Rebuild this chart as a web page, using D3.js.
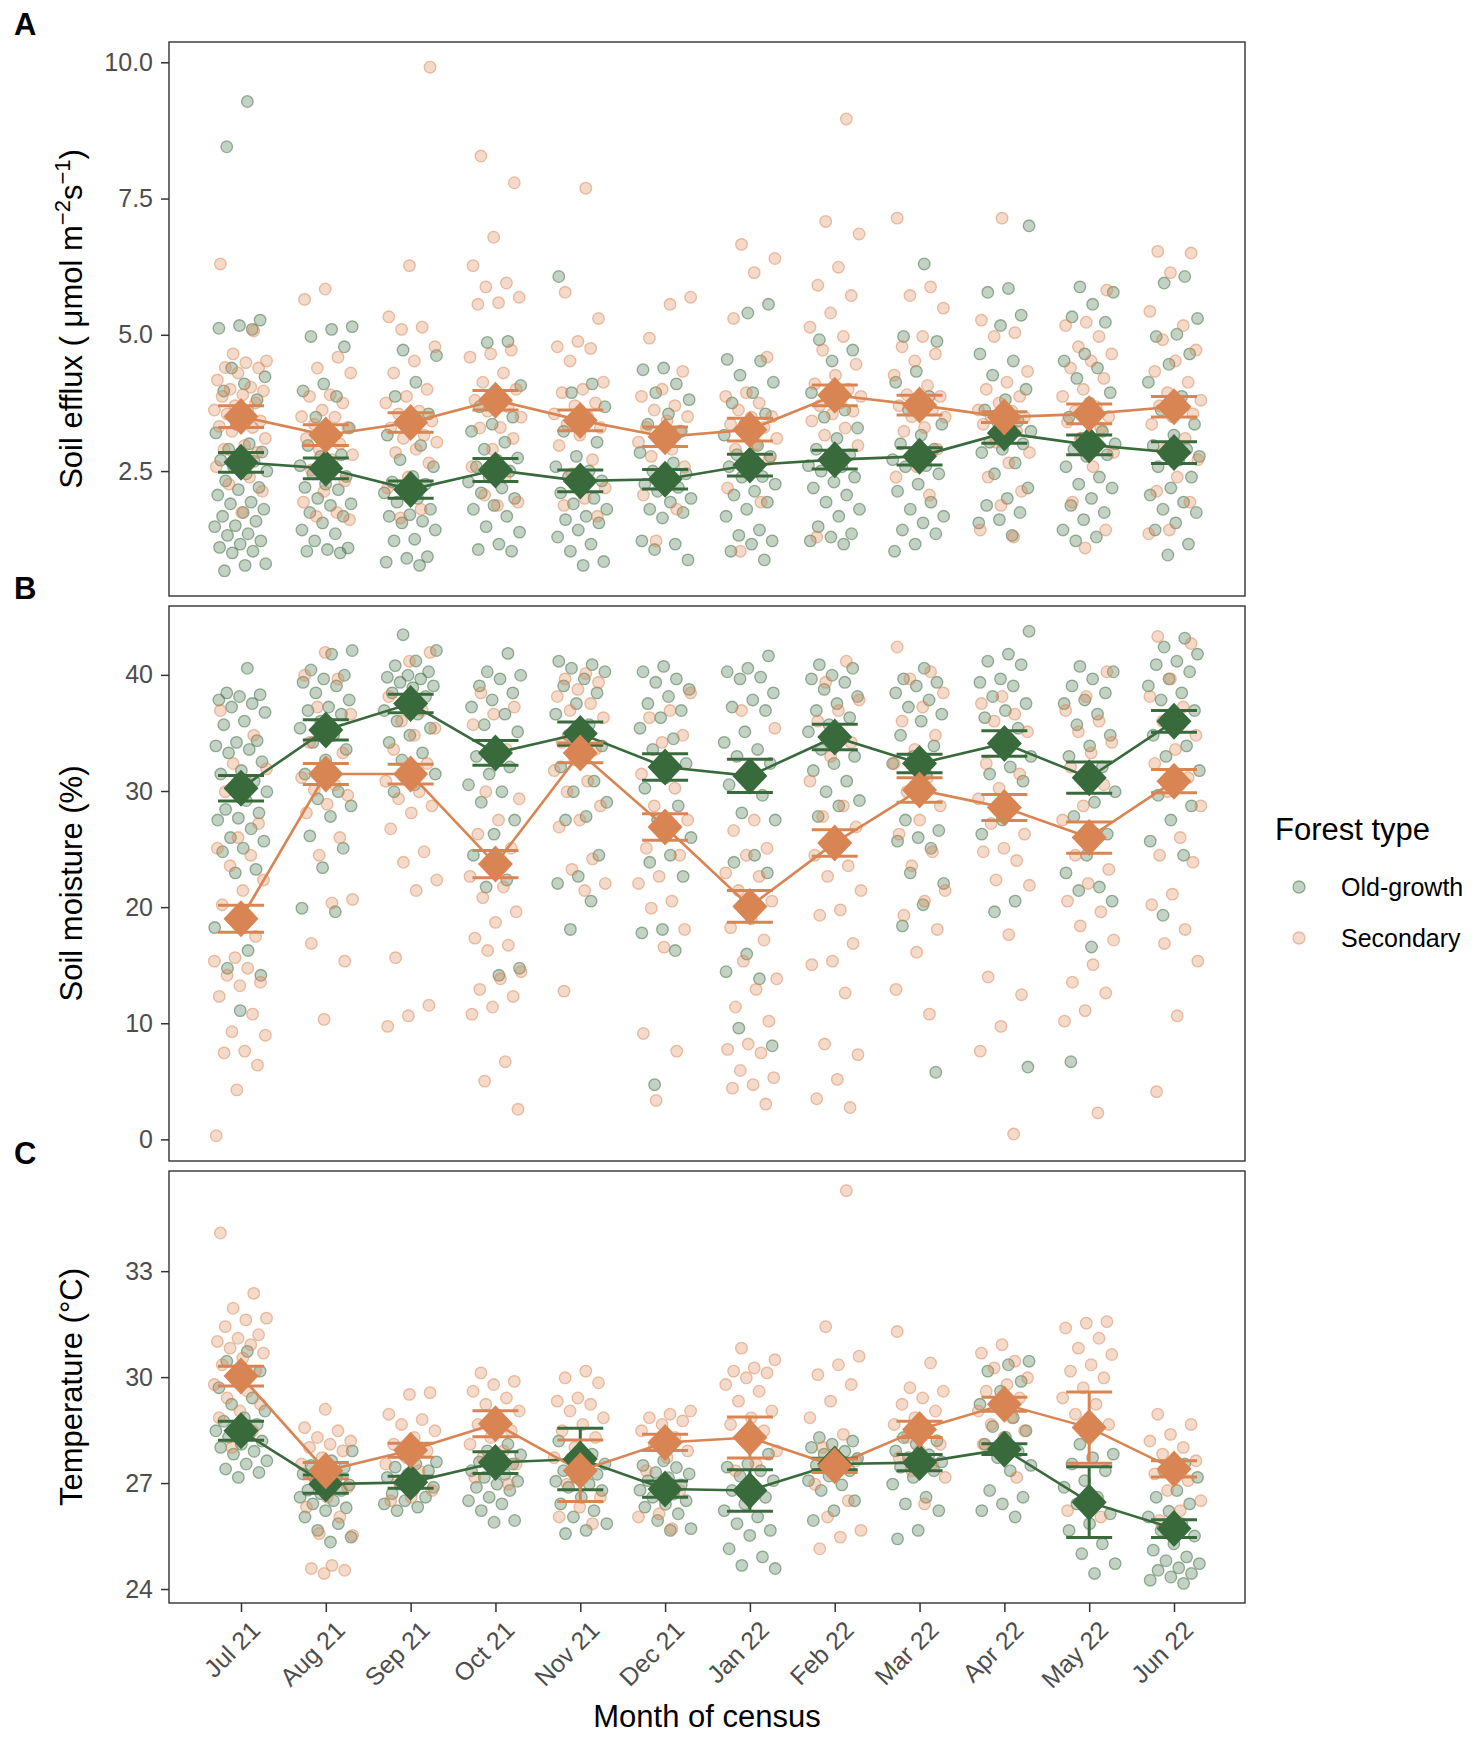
<!doctype html>
<html lang="en">
<head>
<meta charset="utf-8">
<title>Soil efflux, moisture and temperature by month</title>
<script src="https://cdn.jsdelivr.net/npm/d3@7"></script>
<style>
  body { margin: 0; background: #fff; }
  svg { font-family: "Liberation Sans", Arial, sans-serif; }
</style>
</head>
<body>
<div id="chart"></div>
<script>

// ---- data ----
const months = ['Jul 21','Aug 21','Sep 21','Oct 21','Nov 21','Dec 21','Jan 22','Feb 22','Mar 22','Apr 22','May 22','Jun 22'];
const forestTypes = ['Old-growth', 'Secondary'];

// A: soil efflux, one array of plot values per month
const effluxOld = [
  [9.28,8.45,5.27,5.17,5.12,5.1,4.39,4.23,4.1,3.97,3.81,3.36,3.2,3.0,2.9,2.85,2.75,2.7,2.68,2.58,2.5,2.45,2.32,2.2,2.16,2.06,1.93,1.9,1.8,1.74,1.67,1.58,1.5,1.48,1.35,1.32,1.22,1.16,1.1,1.03,1.0,0.8,0.77,0.67],
  [5.15,5.1,4.97,4.78,4.1,3.97,3.87,3.49,3.29,3.1,2.97,2.8,2.77,2.6,2.58,2.45,2.4,2.26,2.2,2.16,2.0,1.9,1.87,1.74,1.67,1.55,1.42,1.35,1.22,1.09,1.06,1.03,1.0],
  [4.72,4.62,4.13,3.87,3.55,3.36,3.16,2.97,2.71,2.58,2.4,2.3,2.26,2.13,2.1,2.0,1.93,1.8,1.7,1.67,1.58,1.55,1.42,1.25,1.22,0.93,0.9,0.83,0.77],
  [4.88,4.86,4.07,3.87,3.68,3.49,3.36,3.23,3.03,2.9,2.74,2.7,2.58,2.5,2.39,2.3,2.19,2.1,2.0,1.87,1.8,1.67,1.48,1.38,1.16,1.06,1.03],
  [6.07,4.1,3.94,3.68,3.36,3.23,3.03,2.77,2.58,2.5,2.4,2.32,2.19,2.1,2.0,1.9,1.8,1.67,1.61,1.55,1.42,1.29,1.16,1.03,0.84,0.77],
  [4.39,4.36,4.1,3.94,3.81,3.55,3.36,3.23,3.03,2.84,2.65,2.5,2.45,2.3,2.26,2.2,2.13,2.0,1.93,1.8,1.74,1.64,1.22,1.16,1.06,0.87],
  [5.56,5.4,4.55,4.52,4.26,4.13,3.94,3.75,3.55,3.36,3.16,2.97,2.8,2.77,2.6,2.58,2.4,2.39,2.26,2.13,2.06,1.93,1.8,1.67,1.42,1.32,1.22,1.16,1.03,0.87],
  [4.91,4.72,4.52,3.94,3.62,3.49,3.29,3.1,2.9,2.8,2.77,2.6,2.58,2.5,2.39,2.3,2.19,2.06,1.93,1.8,1.67,1.48,1.35,1.29,1.22,1.16],
  [6.3,4.97,4.88,4.33,4.13,3.87,3.62,3.36,3.16,3.0,2.9,2.8,2.71,2.6,2.58,2.45,2.26,2.13,1.93,1.8,1.67,1.55,1.42,1.35,1.16,1.03],
  [7.0,5.85,5.78,5.36,5.17,4.65,4.52,4.26,4.0,3.81,3.62,3.42,3.4,3.23,3.2,3.03,3.0,2.9,2.84,2.65,2.45,2.19,2.0,1.87,1.74,1.61,1.55,1.32],
  [5.88,5.78,5.56,5.33,5.23,4.65,4.52,4.39,4.2,3.94,3.75,3.49,3.23,3.1,3.0,2.97,2.9,2.8,2.77,2.58,2.39,2.26,2.19,2.0,1.87,1.74,1.61,1.42,1.29,1.22],
  [6.07,5.95,5.3,5.01,4.97,4.65,4.46,4.13,3.87,3.62,3.36,3.16,2.97,2.9,2.8,2.77,2.7,2.58,2.39,2.19,2.06,1.93,1.8,1.74,1.55,1.42,1.16,0.96]
];
const effluxSec = [
  [6.3,5.07,4.65,4.52,4.49,4.4,4.39,4.3,4.17,4.04,4.0,3.97,3.9,3.87,3.75,3.7,3.62,3.6,3.55,3.42,3.4,3.32,3.3,3.23,3.1,2.97,2.9,2.84,2.7,2.58,2.39,2.26,2.13,1.74],
  [5.84,5.65,4.59,4.39,4.3,3.9,3.87,3.75,3.62,3.5,3.49,3.36,3.3,3.23,3.1,3.0,2.9,2.8,2.71,2.52,2.32,2.13,1.93,1.74,1.67,1.61],
  [9.91,6.27,5.33,5.14,5.1,4.78,4.52,4.3,4.0,3.87,3.75,3.6,3.55,3.42,3.3,3.29,3.16,3.1,3.03,2.9,2.84,2.65,2.39,2.19,1.8,1.64],
  [8.28,7.79,6.79,6.27,5.95,5.88,5.69,5.59,5.56,4.72,4.65,4.59,4.3,4.13,4.0,3.87,3.8,3.68,3.6,3.49,3.3,3.29,3.1,2.9,2.58,2.39,2.06,1.93,1.87],
  [7.69,5.78,5.3,4.88,4.78,4.75,4.52,4.13,4.0,3.94,3.75,3.7,3.55,3.5,3.36,3.3,3.16,2.97,2.71,2.45,2.19,2.0,1.87,1.67],
  [5.69,5.56,4.94,4.33,4.0,3.87,3.7,3.62,3.5,3.42,3.3,3.23,3.1,3.03,2.9,2.77,2.58,2.32,2.06,1.8,1.22],
  [6.66,6.4,6.14,5.3,4.59,3.94,3.87,3.75,3.62,3.5,3.49,3.36,3.3,3.23,3.1,3.0,2.9,2.71,2.45,2.19,1.93,1.03],
  [8.96,7.08,6.85,6.24,5.91,5.72,5.4,5.14,4.97,4.72,4.46,4.26,4.1,4.0,3.9,3.87,3.75,3.7,3.6,3.55,3.42,3.29,3.16,2.97,2.71,1.29],
  [7.14,5.88,5.72,5.49,4.97,4.78,4.65,4.52,4.26,4.07,3.9,3.87,3.75,3.7,3.62,3.5,3.49,3.3,3.23,2.9,2.58,2.39,2.06],
  [7.14,5.27,5.04,4.97,4.33,4.13,4.0,3.87,3.75,3.62,3.6,3.5,3.49,3.4,3.36,3.23,3.03,2.84,2.65,2.39,2.13,1.87,1.42,1.29],
  [5.82,5.23,5.17,4.97,4.78,4.65,4.52,4.39,4.2,4.0,3.87,3.68,3.6,3.5,3.49,3.4,3.29,3.1,2.84,2.58,1.93,1.42,1.09],
  [6.53,6.5,6.14,5.43,5.17,4.91,4.72,4.52,4.33,4.13,3.94,3.8,3.75,3.7,3.55,3.5,3.36,3.1,2.9,2.71,2.39,2.13,1.93,1.42,1.35]
];
const effluxOldMean = [2.66,2.55,2.16,2.52,2.32,2.35,2.61,2.71,2.77,3.20,2.98,2.84];
const effluxOldSE   = [0.18,0.19,0.16,0.21,0.20,0.18,0.20,0.17,0.16,0.19,0.18,0.20];
const effluxSecMean = [3.50,3.16,3.39,3.80,3.43,3.13,3.26,3.89,3.71,3.49,3.55,3.68];
const effluxSecSE   = [0.20,0.19,0.18,0.18,0.19,0.18,0.21,0.19,0.18,0.10,0.18,0.19];

// B: soil moisture (%)
const moistOld = [
  [40.57,38.45,38.3,38.14,37.84,37.53,37.23,36.77,36.02,35.71,34.34,34.19,33.89,33.58,33.28,32.52,31.76,31.46,30.85,30.24,29.94,29.18,28.42,28.12,27.66,27.5,26.75,25.99,25.68,25.07,24.77,23.25,22.95,18.24,16.26,14.74,14.13,11.09],
  [42.1,41.79,40.42,39.97,39.66,39.36,39.05,38.45,37.84,37.23,36.93,36.62,36.02,35.41,34.8,34.19,33.58,32.67,31.46,29.94,29.33,28.72,27.81,26.14,25.07,23.4,19.91,19.6],
  [43.46,42.1,41.2,40.8,40.27,39.97,39.8,39.66,39.36,39.05,38.9,38.45,38.14,37.53,36.93,36.62,36.02,35.41,34.8,34.19,33.28,32.67,31.46,30.54,29.94],
  [41.85,40.27,39.97,39.66,39.05,38.45,37.84,37.23,36.62,35.71,35.1,33.58,32.98,32.07,31.46,30.54,29.94,29.03,27.5,26.29,24.47,22.34,21.73,14.74,14.13],
  [41.18,40.88,40.57,40.27,39.66,39.05,38.45,37.53,36.62,35.71,34.8,33.89,32.98,32.07,30.85,29.94,29.03,27.81,27.5,24.47,22.65,22.04,20.52,18.08],
  [40.73,40.27,39.66,39.36,38.75,38.14,37.53,36.93,36.32,35.41,34.5,33.58,32.37,31.15,30.24,28.72,27.5,25.99,24.47,23.86,22.65,18.08,17.78,16.26,4.71],
  [41.64,40.57,40.27,39.81,39.66,38.45,37.84,37.23,36.93,35.1,34.19,33.58,32.98,32.37,31.46,30.54,29.63,28.12,27.5,24.47,23.86,22.95,15.96,14.44,13.83,9.58,8.06],
  [40.88,40.57,39.97,39.66,39.36,38.75,38.14,37.53,36.93,36.32,35.71,35.1,34.5,33.58,32.98,32.37,31.76,30.85,29.94,29.18,28.72,27.81],
  [40.57,39.66,39.36,39.05,38.45,37.84,37.23,36.62,36.02,34.8,33.89,32.98,32.37,31.46,27.5,26.6,25.99,25.68,25.07,22.95,22.04,20.21,18.39,5.78],
  [43.76,41.79,41.18,40.88,39.66,39.36,39.05,38.14,37.53,36.93,36.32,35.41,34.19,32.98,32.07,31.46,30.85,27.5,26.29,20.52,19.6,6.23],
  [40.73,40.27,39.66,39.05,38.45,37.84,37.53,36.62,35.71,34.8,33.89,32.98,32.07,31.15,29.94,29.03,27.81,26.29,24.47,22.95,21.73,21.43,20.52,16.57,6.69],
  [43.16,42.4,41.79,41.18,40.88,40.27,39.66,39.05,38.45,37.84,36.93,35.71,34.8,33.89,32.98,31.76,30.85,29.63,28.72,27.5,25.68,24.47,19.3]
];
const moistSec = [
  [36.93,34.8,32.37,31.91,30.85,29.94,27.2,25.99,25.07,24.47,23.56,22.34,21.43,20.21,17.48,15.65,15.35,14.74,14.13,13.53,13.23,12.31,10.79,9.27,8.97,7.6,7.45,6.39,4.26,0.31],
  [41.94,39.97,39.66,37.23,36.62,35.41,34.19,33.28,32.07,31.15,30.54,30.09,29.63,28.87,28.12,25.99,24.47,20.67,20.36,16.87,15.35,10.33],
  [41.94,41.18,38.14,36.93,36.02,35.41,34.8,33.58,32.37,31.46,30.85,29.94,29.33,28.72,28.12,26.75,24.77,23.86,22.34,21.43,15.65,11.55,10.64,9.73],
  [38.45,37.23,36.62,35.71,33.58,29.94,29.33,27.5,26.29,25.07,23.86,22.65,21.73,20.82,19.6,18.69,17.33,16.72,16.26,14.44,13.83,12.92,12.31,11.4,10.79,6.69,5.02,2.59],
  [40.12,39.66,39.36,38.75,38.14,37.53,36.93,36.32,35.41,34.19,33.58,32.67,31.76,30.85,29.94,28.72,27.5,26.9,24.16,23.25,22.04,21.43,12.77],
  [38.45,36.93,36.32,34.8,34.19,31.46,30.24,28.72,27.5,26.29,25.07,24.47,22.65,22.04,20.52,19.91,18.08,16.56,9.12,7.6,3.35],
  [36.93,35.41,27.5,26.6,25.07,24.47,22.95,22.65,21.43,20.52,19.0,18.24,17.17,15.35,13.83,12.92,11.4,10.18,8.21,7.75,7.45,5.93,5.32,4.71,4.41,3.04],
  [41.18,39.36,37.84,36.93,36.02,34.19,32.98,30.85,28.72,27.81,26.9,25.68,24.47,23.56,22.65,21.43,19.76,19.3,16.87,15.35,15.05,12.61,8.21,7.3,5.17,3.5,2.74],
  [42.4,40.27,39.66,38.45,37.23,36.02,34.8,33.58,32.37,31.15,29.94,28.72,27.5,26.29,24.77,23.56,21.43,20.52,19.3,18.08,16.11,12.92,10.79],
  [38.14,37.53,36.62,36.02,35.1,33.58,32.37,31.46,30.24,29.33,28.42,27.2,26.29,25.07,24.77,24.01,22.34,21.88,17.63,13.98,12.46,9.73,7.6,0.46],
  [40.27,38.14,36.93,36.02,35.1,34.19,33.28,32.07,30.54,28.72,27.5,26.29,24.47,23.25,22.04,20.52,19.6,18.39,17.17,15.05,13.53,12.61,11.09,10.18,2.28],
  [43.31,42.7,39.66,38.14,37.23,36.02,34.8,33.58,32.37,31.15,29.94,28.72,25.99,24.47,23.86,21.12,20.21,18.08,16.87,15.35,10.64,4.11]
];
const moistOldMean = [30.24,35.26,37.53,33.28,34.95,32.07,31.30,34.65,32.37,34.10,31.15,36.00];
const moistOldSE   = [1.10,0.87,0.80,1.06,1.00,1.14,1.43,1.10,0.80,1.10,1.34,0.94];
const moistSecMean = [19.00,31.46,31.46,23.71,33.28,26.90,20.06,25.53,30.09,28.57,25.99,30.85];
const moistSecSE   = [1.17,0.90,0.85,1.17,0.85,1.14,1.37,1.14,1.06,1.12,1.35,1.00];

// C: temperature (°C)
const tempOld = [
  [30.73,30.45,30.17,29.98,29.7,29.41,29.23,29.04,28.85,28.75,28.66,28.57,28.48,28.38,28.3,28.19,28.1,28.01,27.9,27.82,27.63,27.54,27.4,27.3,27.16],
  [27.91,27.63,27.5,27.44,27.3,27.26,27.15,27.07,26.95,26.88,26.8,26.79,26.7,26.6,26.5,26.41,26.3,26.22,26.04,25.85,25.66,25.47,25.33],
  [27.82,27.6,27.54,27.45,27.35,27.25,27.16,27.07,26.97,26.88,26.79,26.7,26.6,26.5,26.41,26.32,26.22],
  [28.1,27.91,27.8,27.72,27.6,27.54,27.45,27.35,27.25,27.16,27.05,26.97,26.88,26.79,26.6,26.5,26.41,26.22,25.94,25.89],
  [28.19,27.82,27.7,27.54,27.45,27.35,27.25,27.16,27.05,26.97,26.88,26.79,26.6,26.41,26.22,26.04,25.85,25.66,25.57],
  [27.63,27.5,27.44,27.3,27.26,27.15,27.07,26.95,26.88,26.8,26.69,26.6,26.5,26.4,26.32,26.13,25.94,25.71,25.66],
  [27.82,27.54,27.45,27.35,27.2,27.07,26.9,26.79,26.6,26.41,26.22,26.04,25.85,25.66,25.52,25.14,24.91,24.67,24.58],
  [28.29,28.19,28.1,28.01,27.9,27.82,27.7,27.63,27.5,27.35,27.2,27.07,26.95,26.79,26.5,26.22,25.94],
  [28.48,28.29,28.2,28.1,27.91,27.8,27.72,27.6,27.54,27.45,27.35,27.16,26.97,26.6,26.41,26.22,25.66,25.42],
  [30.45,30.35,30.17,29.88,29.6,29.23,28.85,28.6,28.48,28.3,28.1,27.9,27.72,27.5,27.35,26.79,26.6,26.41,26.22,26.04],
  [28.1,27.82,27.72,27.54,27.35,27.07,26.88,26.6,26.41,26.13,25.85,25.66,25.28,25.0,24.72,24.44],
  [27.54,27.35,27.16,26.79,26.6,26.41,26.2,26.04,25.85,25.66,25.5,25.28,25.1,24.91,24.8,24.72,24.6,24.53,24.44,24.34,24.25,24.16]
];
const tempSec = [
  [34.08,32.37,31.95,31.67,31.62,31.43,31.2,31.1,31.01,30.92,30.82,30.68,30.54,30.35,30.17,29.98,29.79,29.6,29.41,29.23,29.04,28.85,28.48,28.01],
  [29.09,28.57,28.48,28.29,28.19,28.1,28.01,27.91,27.72,27.54,27.35,27.16,26.88,26.6,26.32,26.04,25.57,25.52,24.67,24.58,24.53,24.44],
  [29.56,29.51,28.95,28.8,28.66,28.48,28.29,28.1,27.91,27.72,27.54,27.35,27.07,26.79,26.6,26.5],
  [30.12,29.88,29.79,29.6,29.41,29.23,29.04,28.85,28.66,28.48,28.29,28.1,27.91,27.72,27.54,27.35,27.16,26.97],
  [30.17,29.98,29.84,29.41,29.32,29.23,29.04,28.85,28.66,28.48,28.29,28.01,27.72,27.35,26.97,26.6,26.32,26.04,25.85],
  [29.04,28.95,28.85,28.76,28.66,28.48,28.29,28.1,27.91,27.72,27.35,26.79,26.13,26.04,25.71],
  [30.82,30.49,30.26,30.17,30.12,29.98,29.79,29.6,29.32,29.04,28.85,28.66,28.48,28.29,27.91,27.54,27.35],
  [35.28,31.43,30.59,30.35,30.07,29.79,29.32,28.85,28.38,28.01,27.63,27.35,26.97,26.5,26.04,25.66,25.47,25.14],
  [31.29,30.4,29.7,29.6,29.41,29.23,29.04,28.85,28.66,28.48,28.29,28.1,27.91,27.72,27.54,27.35,27.16,26.41],
  [30.92,30.68,30.45,30.26,29.98,29.79,29.6,29.41,29.23,29.04,28.85,28.66,28.48,28.29,28.1,27.16],
  [31.57,31.53,31.39,31.1,30.82,30.64,30.35,30.17,29.98,29.7,29.41,29.23,28.95,28.66,26.41,26.22,26.04],
  [28.95,28.66,28.38,28.19,28.01,27.82,27.63,27.44,27.26,27.07,26.79,26.5,26.22,25.94]
];
const tempOldMean = [28.48,26.97,27.02,27.58,27.68,26.83,26.79,27.54,27.58,27.96,26.46,25.71];
const tempOldSE   = [0.27,0.26,0.17,0.31,0.87,0.23,0.59,0.16,0.23,0.15,1.00,0.25];
const tempSecMean = [30.03,27.35,27.93,28.68,27.35,28.15,28.29,27.49,28.52,29.23,28.57,27.40];
const tempSecSE   = [0.28,0.23,0.20,0.37,0.87,0.23,0.58,0.19,0.23,0.20,1.01,0.23];

const yTicksA = [2.5, 5.0, 7.5, 10.0];
const yTicksB = [0, 10, 20, 30, 40];
const yTicksC = [24, 27, 30, 33];

// ---- layout ----
const width = 1477, height = 1740;
const left = 169, right = 1245;
const colors = { 'Old-growth': '#386a3c', 'Secondary': '#d98553' };
const jitterW = 27;

const svg = d3.select('#chart').append('svg')
    .attr('width', width)
    .attr('height', height);

svg.append('rect').attr('width', width).attr('height', height).attr('fill', '#fff');

const x = d3.scalePoint().domain(months).range([241, 1174]);

const panels = [
  { tag: 'A', top: 42, bottom: 596, old: effluxOld, sec: effluxSec,
    oldMean: effluxOldMean, oldSE: effluxOldSE, secMean: effluxSecMean, secSE: effluxSecSE,
    ticks: yTicksA, fmt: d3.format('.1f'), title: 'efflux' },
  { tag: 'B', top: 606, bottom: 1161, old: moistOld, sec: moistSec,
    oldMean: moistOldMean, oldSE: moistOldSE, secMean: moistSecMean, secSE: moistSecSE,
    ticks: yTicksB, fmt: d3.format('d'), title: 'Soil moisture (%)' },
  { tag: 'C', top: 1171, bottom: 1603, old: tempOld, sec: tempSec,
    oldMean: tempOldMean, oldSE: tempOldSE, secMean: tempSecMean, secSE: tempSecSE,
    ticks: yTicksC, fmt: d3.format('d'), title: 'Temperature (°C)' }
];

// deterministic spread for the jittered points
function jit(i, k, t) {
  const u = ((k + 1) * 0.618034 + i * 0.371 + t * 0.5) % 1;
  return (u - 0.5) * 2 * jitterW;
}

const diamond = 'M0,-18.5L17.5,0L0,18.5L-17.5,0Z';

panels.forEach(p => {
  const all = d3.merge([d3.merge(p.old), d3.merge(p.sec)]);
  const [lo, hi] = d3.extent(all);
  const pad = (hi - lo) * 0.05;
  const y = d3.scaleLinear().domain([lo - pad, hi + pad]).range([p.bottom, p.top]);

  const g = svg.append('g');

  // jittered points
  [[p.old, 'Old-growth', 0], [p.sec, 'Secondary', 1]].forEach(([series, type, t]) => {
    const pts = [];
    series.forEach((vals, i) => vals.forEach((v, k) => pts.push({ m: months[i], v, dx: jit(i, k, t) })));
    g.append('g').selectAll('circle')
      .data(pts)
      .join('circle')
        .attr('cx', d => x(d.m) + d.dx)
        .attr('cy', d => y(d.v))
        .attr('r', 5.8)
        .attr('fill', colors[type])
        .attr('fill-opacity', 0.3)
        .attr('stroke', colors[type])
        .attr('stroke-opacity', 0.5)
        .attr('stroke-width', 1.3);
  });

  const summaries = [
    { type: 'Old-growth', mean: p.oldMean, se: p.oldSE },
    { type: 'Secondary', mean: p.secMean, se: p.secSE }
  ];

  // mean lines
  summaries.forEach(s => {
    g.append('path')
      .datum(s.mean)
      .attr('fill', 'none')
      .attr('stroke', colors[s.type])
      .attr('stroke-width', 2.6)
      .attr('d', d3.line().x((d, i) => x(months[i])).y(d => y(d)));
  });

  // error bars (mean ± SE)
  summaries.forEach(s => {
    const eb = g.append('g')
      .attr('stroke', colors[s.type])
      .attr('stroke-width', 3);
    s.mean.forEach((m, i) => {
      const cx = x(months[i]);
      const y0 = y(m - s.se[i]), y1 = y(m + s.se[i]);
      eb.append('line').attr('x1', cx).attr('x2', cx).attr('y1', y0).attr('y2', y1);
      eb.append('line').attr('x1', cx - 23).attr('x2', cx + 23).attr('y1', y0).attr('y2', y0);
      eb.append('line').attr('x1', cx - 23).attr('x2', cx + 23).attr('y1', y1).attr('y2', y1);
    });
  });

  // mean diamonds
  summaries.forEach(s => {
    g.append('g').selectAll('path')
      .data(s.mean)
      .join('path')
        .attr('d', diamond)
        .attr('transform', (d, i) => `translate(${x(months[i])},${y(d)})`)
        .attr('fill', colors[s.type]);
  });

  // panel border
  g.append('rect')
    .attr('x', left).attr('y', p.top)
    .attr('width', right - left).attr('height', p.bottom - p.top)
    .attr('fill', 'none')
    .attr('stroke', '#333')
    .attr('stroke-width', 1.4);

  // y axis
  const ya = g.append('g')
    .attr('transform', `translate(${left},0)`)
    .call(d3.axisLeft(y).tickValues(p.ticks).tickFormat(p.fmt).tickSize(8).tickPadding(8));
  ya.select('.domain').remove();
  ya.selectAll('.tick line').attr('stroke', '#333').attr('stroke-width', 1.5);
  ya.selectAll('.tick text')
    .attr('fill', '#4d4d4d')
    .style('font-size', '25px')
    .style('font-family', '"Liberation Sans", Arial, sans-serif');

  // y title
  const yt = svg.append('text')
    .attr('transform', `translate(82,${(p.top + p.bottom) / 2}) rotate(-90)`)
    .attr('text-anchor', 'middle')
    .style('font-size', '31px')
    .attr('fill', '#000');
  if (p.title === 'efflux') {
    yt.append('tspan').text('Soil efflux ( μmol m');
    yt.append('tspan').attr('dy', -12).style('font-size', '22px').text('−2');
    yt.append('tspan').attr('dy', 12).text('s');
    yt.append('tspan').attr('dy', -12).style('font-size', '22px').text('−1');
    yt.append('tspan').attr('dy', 12).text(')');
  } else {
    yt.text(p.title);
  }

  // panel tag
  svg.append('text')
    .attr('x', 14)
    .attr('y', p.top - 7)
    .style('font-size', '31px')
    .style('font-weight', 'bold')
    .text(p.tag);

  // x axis on the bottom panel only
  if (p.tag === 'C') {
    const xa = svg.append('g')
      .attr('transform', `translate(0,${p.bottom})`)
      .call(d3.axisBottom(x).tickSize(9).tickFormat(''));
    xa.select('.domain').remove();
    xa.selectAll('.tick line').attr('stroke', '#333').attr('stroke-width', 1.5);

    svg.append('g').selectAll('text')
      .data(months)
      .join('text')
        .attr('transform', d => `translate(${x(d) + 8},${p.bottom + 16}) rotate(-45)`)
        .attr('text-anchor', 'end')
        .attr('dy', '0.72em')
        .attr('fill', '#4d4d4d')
        .style('font-size', '25px')
        .text(d => d);

    svg.append('text')
      .attr('x', (left + right) / 2)
      .attr('y', 1727)
      .attr('text-anchor', 'middle')
      .style('font-size', '31px')
      .text('Month of census');
  }
});

// legend
const legend = svg.append('g');
legend.append('text')
  .attr('x', 1275).attr('y', 840)
  .style('font-size', '31px')
  .text('Forest type');
forestTypes.forEach((t, i) => {
  const cy = 887 + i * 51;
  legend.append('circle')
    .attr('cx', 1299).attr('cy', cy).attr('r', 6)
    .attr('fill', colors[t]).attr('fill-opacity', 0.3)
    .attr('stroke', colors[t]).attr('stroke-opacity', 0.5).attr('stroke-width', 1.3);
  legend.append('text')
    .attr('x', 1341).attr('y', cy + 9)
    .style('font-size', '25px')
    .text(t);
});

</script>
</body>
</html>
